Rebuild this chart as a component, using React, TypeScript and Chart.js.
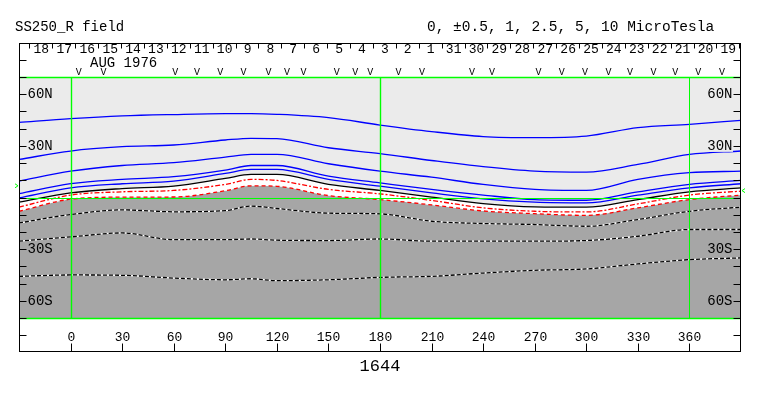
import React, { useEffect, useRef } from "react";
import { Chart, registerables } from "chart.js";

Chart.register(...registerables);

// Carrington longitude sample points (degrees)
const LON = [-30, 0, 30, 60, 90, 105, 120, 150, 180, 210, 240, 270, 300, 330, 360, 390];

// Contour latitudes (degrees) at each LON sample
const BLUE1 = [43.6, 45.8, 47.4, 48.2, 48.7, 48.7, 48.3, 46.4, 42.1, 38.3, 35.4, 34.8, 35.7, 40.6, 42.5, 44.8];
const BLUE2 = [22.1, 27.0, 29.5, 30.5, 33.4, 34.4, 34.2, 28.9, 25.5, 21.5, 17.9, 15.3, 14.7, 19.2, 25.0, 27.0];
const BLUE3 = [9.5, 15.3, 18.6, 20.2, 23.5, 25.0, 25.0, 19.6, 15.3, 11.8, 7.6, 4.7, 4.1, 10.5, 14.4, 15.3];
const BLUE4 = [2.2, 8.0, 10.5, 12.1, 15.9, 18.6, 18.6, 12.4, 8.5, 4.7, 1.4, -1.2, -1.6, 3.3, 7.6, 9.9];
const BLUE5 = [-0.2, 5.6, 8.0, 9.5, 14.0, 16.3, 16.3, 10.5, 6.6, 2.7, -0.8, -2.7, -3.1, 1.4, 5.6, 8.0];
const BLACK0 = [-2.7, 2.7, 5.2, 6.6, 11.1, 13.4, 13.4, 7.6, 4.1, 0.2, -3.5, -5.4, -5.6, -1.2, 3.3, 5.6];
const RED1 = [-5.6, 1.4, 3.3, 4.1, 7.6, 10.5, 9.9, 4.7, 2.1, -1.7, -6.0, -8.0, -8.4, -3.7, 1.4, 3.7];
const RED2 = [-8.0, -1.0, 0.2, 0.3, 3.9, 6.8, 6.5, 1.1, -1.2, -4.3, -7.8, -9.4, -10.4, -6.0, -1.2, 1.4];
const NEG1 = [-14.8, -9.9, -7.2, -8.3, -7.6, -5.0, -6.4, -9.1, -9.5, -13.8, -15.1, -15.7, -16.7, -12.8, -8.0, -5.6];
const NEG2 = [-25.4, -22.9, -20.6, -24.5, -24.5, -24.1, -24.8, -25.0, -24.1, -25.4, -25.4, -25.4, -25.0, -22.5, -18.6, -18.6];
const NEG3 = [-45.8, -45.0, -45.2, -46.8, -47.8, -47.2, -48.3, -47.8, -46.4, -45.8, -43.9, -42.3, -41.5, -38.6, -36.1, -35.1];

const X_TICKS = [0, 30, 60, 90, 120, 150, 180, 210, 240, 270, 300, 330, 360];
const LAT_TICKS = [-80, -70, -60, -50, -40, -30, -20, -10, 0, 10, 20, 30, 40, 50, 60, 70, 80];
const LAT_LABEL_VALUES = [60, 30, -30, -60];
const LAT_LABEL_TEXT = ["60N", "30N", "30S", "60S"];

const DAY_LABELS = ["18", "17", "16", "15", "14", "13", "12", "11", "10", "9", "8", "7", "6", "5", "4", "3", "2", "1",
  "31", "30", "29", "28", "27", "26", "25", "24", "23", "22", "21", "20", "19"];
const DAY_TICKS = [-24.0, -10.6, 2.7, 16.1, 29.4, 42.7, 56.0, 69.3, 82.7, 96.0, 109.3, 122.6, 135.9, 149.3, 162.6,
  175.9, 189.2, 202.5, 215.9, 229.2, 242.5, 255.8, 269.1, 282.5, 295.8, 309.1, 322.4, 335.7, 349.1, 362.4, 375.7, 389.0];
const OBS_LON = [4.7, 19.2, 60.9, 73.5, 87.0, 100.6, 115.2, 125.9, 135.5, 154.9, 165.6, 174.3, 190.8, 204.4, 233.5,
  245.1, 272.2, 285.8, 299.3, 312.9, 325.5, 339.1, 351.7, 365.2, 378.9];
const GREEN_LON = [0, 180, 360];
const EARTH_LAT_LEFT = 6.8;
const EARTH_LAT_RIGHT = 4.0;

const TITLE = "SS250_R field";
const UNITS = "0, \u00b10.5, 1, 2.5, 5, 10 MicroTesla";
const MONTH = "AUG 1976";
const ROTATION = "1644";

const LIGHT = "#ebebeb";
const DARK = "#a6a6a6";
const GREEN = "#00ff00";
const MONO = "'Liberation Mono', 'DejaVu Sans Mono', monospace";

const pts = (arr: number[]) => arr.map((v, i) => ({ x: LON[i], y: v }));

const decor = {
  id: "decor",
  beforeDraw(chart: any) {
    const { ctx, chartArea: a } = chart;
    ctx.save();
    ctx.fillStyle = LIGHT;
    ctx.fillRect(a.left, a.top, a.right - a.left, a.bottom - a.top);
    ctx.restore();
  },
  afterDatasetsDraw(chart: any) {
    const { ctx, chartArea: a } = chart;
    const xs = chart.scales.x;
    const ys = chart.scales.y;
    const X = (v: number) => xs.getPixelForValue(v);
    const Y = (v: number) => ys.getPixelForValue(v);
    const L = Math.round(a.left) + 0.5;
    const R = Math.round(a.right) - 0.5;
    const top = Math.round(Y(90)) + 0.5;
    const bot = Math.round(Y(-90)) - 0.5;
    ctx.save();

    // green reference lines
    ctx.strokeStyle = GREEN;
    GREEN_LON.forEach((g, i) => {
      const x = Math.round(X(g)) + 0.5;
      ctx.lineWidth = i < 2 ? 1.4 : 1;
      ctx.beginPath();
      ctx.moveTo(x, a.top);
      ctx.lineTo(x, a.bottom);
      ctx.stroke();
    });
    ctx.lineWidth = 1;
    ctx.beginPath();
    const eq = Math.round(Y(0)) + 0.5;
    ctx.moveTo(a.left, eq);
    ctx.lineTo(a.right, eq);
    ctx.stroke();
    ctx.lineWidth = 1.6;
    ctx.beginPath();
    ctx.moveTo(a.left, Math.round(Y(70)) + 0.5);
    ctx.lineTo(a.right, Math.round(Y(70)) + 0.5);
    ctx.moveTo(a.left, Math.round(Y(-70)) + 0.5);
    ctx.lineTo(a.right, Math.round(Y(-70)) + 0.5);
    ctx.stroke();

    // earth latitude markers
    ctx.lineWidth = 1;
    ctx.beginPath();
    const el = Y(EARTH_LAT_LEFT);
    ctx.moveTo(L - 4.5, el - 2);
    ctx.lineTo(L - 1.5, el);
    ctx.lineTo(L - 4.5, el + 2);
    const er = Y(EARTH_LAT_RIGHT);
    ctx.moveTo(R + 4.5, er - 2);
    ctx.lineTo(R + 1.5, er);
    ctx.lineTo(R + 4.5, er + 2);
    ctx.stroke();

    // outer box
    ctx.strokeStyle = "#000";
    ctx.lineWidth = 1;
    ctx.strokeRect(L, top, R - L, bot - top);

    // latitude ticks
    ctx.beginPath();
    LAT_TICKS.forEach((t) => {
      const y = Math.round(Y(t)) + 0.5;
      ctx.moveTo(L, y);
      ctx.lineTo(L + 7, y);
      ctx.moveTo(R, y);
      ctx.lineTo(R - 7, y);
    });
    ctx.stroke();

    // latitude labels
    ctx.font = `14px ${MONO}`;
    ctx.textBaseline = "middle";
    LAT_LABEL_VALUES.forEach((v, i) => {
      const y = Y(v);
      const t = LAT_LABEL_TEXT[i];
      const w = ctx.measureText(t).width;
      ctx.fillStyle = v > 0 ? LIGHT : DARK;
      ctx.fillRect(L + 7.5, y - 6, w + 1, 12);
      ctx.fillRect(R - 7.5 - w - 1, y - 6, w + 1, 12);
      ctx.fillStyle = "#000";
      ctx.textAlign = "left";
      ctx.fillText(t, L + 8, y + 0.5);
      ctx.textAlign = "right";
      ctx.fillText(t, R - 8, y + 0.5);
    });

    // longitude ticks and labels
    ctx.font = `13px ${MONO}`;
    ctx.textAlign = "center";
    ctx.fillStyle = "#000";
    ctx.beginPath();
    X_TICKS.forEach((t) => {
      const x = Math.round(X(t)) + 0.5;
      ctx.fillText(String(t), x, 338);
      ctx.moveTo(x, bot);
      ctx.lineTo(x, bot - 8);
    });
    ctx.stroke();

    // day ticks and labels
    ctx.font = `13px ${MONO}`;
    ctx.beginPath();
    DAY_TICKS.forEach((d) => {
      const x = Math.round(X(d)) + 0.5;
      ctx.moveTo(x, top);
      ctx.lineTo(x, top + 5);
    });
    ctx.stroke();
    DAY_LABELS.forEach((lab, i) => {
      const x = (X(DAY_TICKS[i]) + X(DAY_TICKS[i + 1])) / 2 + 0.5;
      ctx.fillText(lab, x, 50);
    });

    // observation markers
    ctx.font = `10px ${MONO}`;
    OBS_LON.forEach((o) => {
      ctx.fillText("V", X(o), 72);
    });

    // texts
    ctx.textAlign = "left";
    ctx.textBaseline = "alphabetic";
    ctx.font = `14px ${MONO}`;
    ctx.fillText(MONTH, 90, 67);
    ctx.fillText(TITLE, 15, 31);
    ctx.font = `14.5px ${MONO}`;
    ctx.fillText(UNITS, 427, 31);
    ctx.font = `17px ${MONO}`;
    ctx.textAlign = "center";
    ctx.textBaseline = "middle";
    ctx.fillText(ROTATION, (X(-30) + X(390)) / 2, 366);
    ctx.restore();
  },
};

export default function App() {
  const ref = useRef<HTMLCanvasElement | null>(null);
  useEffect(() => {
    if (!ref.current) return;
    const line = (data: number[], color: string, extra: any = {}) => ({
      data: pts(data),
      borderColor: color,
      borderWidth: 1.3,
      pointRadius: 0,
      fill: false,
      cubicInterpolationMode: "monotone",
      ...extra,
    });
    const chart = new Chart(ref.current, {
      type: "line",
      data: {
        datasets: [
          line(BLACK0, "#000000", { fill: { target: 2 }, backgroundColor: "#ffffff" }),
          line(RED1, "#ff0000", { borderDash: [5, 2, 2, 2] }),
          line(RED2, "#ff0000", { borderDash: [4, 3], fill: "start", backgroundColor: DARK }),
          line(BLUE1, "#0000ff"),
          line(BLUE2, "#0000ff"),
          line(BLUE3, "#0000ff"),
          line(BLUE4, "#0000ff"),
          line(BLUE5, "#0000ff"),
          line(NEG1, "#000000", { borderDash: [4, 2] }),
          line(NEG2, "#000000", { borderDash: [4, 2] }),
          line(NEG3, "#000000", { borderDash: [4, 2] }),
          line(NEG1, "#ffffff"),
          line(NEG2, "#ffffff"),
          line(NEG3, "#ffffff"),
        ],
      },
      options: {
        responsive: false,
        animation: false,
        devicePixelRatio: 1,
        layout: { padding: { left: 19, right: 22, top: 77, bottom: 78 } },
        plugins: {
          legend: { display: false },
          tooltip: { enabled: false },
          filler: { drawTime: "beforeDatasetsDraw" },
        } as any,
        scales: {
          x: { type: "linear", min: -30, max: 390, display: false },
          y: { type: "linear", min: -70, max: 70, display: false },
        },
      },
      plugins: [decor],
    } as any);
    return () => chart.destroy();
  }, []);
  return (
    <div style={{ position: "fixed", left: 0, top: 0, width: 763, height: 396, background: "#fff" }}>
      <canvas ref={ref} width={763} height={396} style={{ width: 763, height: 396, display: "block" }} />
    </div>
  );
}
